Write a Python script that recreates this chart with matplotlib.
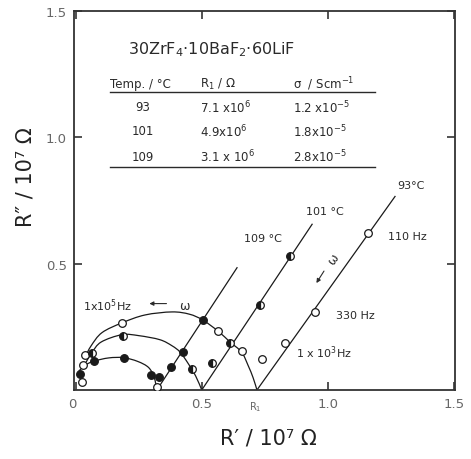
import matplotlib
matplotlib.use("Agg")
import matplotlib.pyplot as plt
from matplotlib.path import Path
from matplotlib.patches import PathPatch
import numpy as np

# ---------------- data (units of 10^7 ohm) ----------------
temps = [93, 101, 109]
R1_ohm = [7.1e6, 4.9e6, 3.1e6]
R1_labels = ["7.1 x10$^{6}$", "4.9x10$^{6}$", "3.1 x 10$^{6}$"]
sigma_labels = ["1.2 x10$^{-5}$", "1.8x10$^{-5}$", "2.8x10$^{-5}$"]

# semicircle traces
arc93_x = [0.036, 0.06, 0.103, 0.183, 0.274, 0.381, 0.45, 0.503, 0.565, 0.611, 0.657, 0.683, 0.703, 0.718]
arc93_y = [0.13, 0.175, 0.227, 0.266, 0.297, 0.309, 0.300, 0.277, 0.232, 0.190, 0.150, 0.097, 0.048, 0.0]
arc101_x = [0.04, 0.063, 0.10, 0.183, 0.25, 0.333, 0.381, 0.413, 0.445, 0.475, 0.499]
arc101_y = [0.11, 0.148, 0.19, 0.219, 0.215, 0.199, 0.175, 0.150, 0.105, 0.055, 0.0]
arc109_x = [0.011, 0.04, 0.07, 0.13, 0.189, 0.245, 0.288, 0.31, 0.321]
arc109_y = [0.075, 0.1, 0.114, 0.127, 0.128, 0.113, 0.089, 0.05, 0.0]

# spike lines (start / end)
line93_x = [0.718, 1.266]
line93_y = [0.0, 0.766]
line101_x = [0.499, 0.937]
line101_y = [0.0, 0.656]
line109_x = [0.326, 0.639]
line109_y = [0.008, 0.484]

# measured points
pts93_x = [0.024, 0.028, 0.036, 0.183, 0.565, 0.657, 0.738, 0.83, 0.948, 1.159, 0.321]
pts93_y = [0.031, 0.10, 0.14, 0.266, 0.232, 0.153, 0.121, 0.186, 0.309, 0.621, 0.012]
pts101_x = [0.063, 0.187, 0.462, 0.538, 0.611, 0.73, 0.849]
pts101_y = [0.148, 0.215, 0.082, 0.106, 0.186, 0.336, 0.531]
pts109_x = [0.016, 0.071, 0.189, 0.296, 0.33, 0.375, 0.425, 0.503]
pts109_y = [0.063, 0.113, 0.128, 0.06, 0.051, 0.09, 0.152, 0.277]

x_ticks = [0, 0.5, 1.0, 1.5]
x_ticklabels = ["0", "0.5", "1.0", "1.5"]
y_ticks = [0.5, 1.0, 1.5]
y_ticklabels = ["0.5", "1.0", "1.5"]


def smooth_path(xs, ys):
    """Cubic Bezier path through the given points (Catmull-Rom tangents)."""
    p = np.column_stack([xs, ys])
    n = len(p)
    verts = [p[0]]
    codes = [Path.MOVETO]
    for i in range(n - 1):
        p0 = p[i - 1] if i > 0 else p[i]
        p3 = p[i + 2] if i + 2 < n else p[i + 1]
        c1 = p[i] + (p[i + 1] - p0) / 6.0
        c2 = p[i + 1] - (p3 - p[i]) / 6.0
        verts += [c1, c2, p[i + 1]]
        codes += [Path.CURVE4] * 3
    return Path(verts, codes)


# ---------------- figure ----------------
W, H = 471, 460
fig = plt.figure(figsize=(W / 100, H / 100), dpi=100)
ax = fig.add_axes([74 / W, (H - 391) / H, (455 - 74) / W, (391 - 12) / H])
ax.set_xlim(-0.008, 1.504)
ax.set_ylim(0.0, 1.48)

ink = "#1a1a1a"
lw = 0.9
for xs, ys in [(arc93_x, arc93_y), (arc101_x, arc101_y), (arc109_x, arc109_y)]:
    ax.add_patch(PathPatch(smooth_path(xs, ys), fill=False, edgecolor=ink, lw=lw, zorder=2))
for xs, ys in [(line93_x, line93_y), (line101_x, line101_y), (line109_x, line109_y)]:
    ax.plot(xs, ys, color=ink, lw=lw, zorder=2)

ms = 5.5
ax.plot(pts93_x, pts93_y, "o", ms=ms, mfc="white", mec=ink, mew=0.9, zorder=3)
ax.plot(pts101_x, pts101_y, "o", ms=ms, fillstyle="left", mfc=ink, mfcalt="white",
        mec=ink, mew=0.9, zorder=3)
ax.plot(pts109_x, pts109_y, "o", ms=ms, mfc=ink, mec=ink, mew=0.9, zorder=3)

# spines & ticks
for s in ax.spines.values():
    s.set_linewidth(1.3)
    s.set_color("#333333")
ax.set_xticks(x_ticks)
ax.set_xticklabels(x_ticklabels)
ax.set_yticks(y_ticks)
ax.set_yticklabels(y_ticklabels)
ax.tick_params(direction="in", length=6, width=1.2, color="#333333",
               top=True, right=True, labelsize=9.5, labelcolor="#666666", pad=5)
ax.get_xticklabels()[0].set_ha("right")
ax.text(R1_ohm[0] / 1e7, -0.035, "R$_1$", ha="center", va="top", fontsize=7,
        color="#666666")

ax.set_xlabel("R′ / 10⁷ Ω", fontsize=15, color="#222222")
ax.set_ylabel("R″ / 10⁷ Ω", fontsize=15, color="#222222")
ax.xaxis.set_label_coords(0.509, -0.1)
ax.yaxis.set_label_coords(-0.1, 0.565)

# annotations
tc = "#2a2a2a"
fs = 8
ax.text(1.33, 0.812, "93°C", ha="center", va="center", fontsize=fs, color=tc)
ax.text(0.988, 0.707, "101 °C", ha="center", va="center", fontsize=fs, color=tc)
ax.text(0.742, 0.60, "109 °C", ha="center", va="center", fontsize=fs, color=tc)
ax.text(1.315, 0.609, "110 Hz", ha="center", va="center", fontsize=fs, color=tc)
ax.text(1.11, 0.297, "330 Hz", ha="center", va="center", fontsize=fs, color=tc)
ax.text(0.985, 0.152, "1 x 10$^{3}$Hz", ha="center", va="center", fontsize=fs, color=tc)
ax.text(0.125, 0.336, "1x10$^{5}$Hz", ha="center", va="center", fontsize=fs, color=tc)
ax.annotate("", xy=(0.28, 0.342), xytext=(0.37, 0.342),
            arrowprops=dict(arrowstyle="-|>", color=tc, lw=0.8, mutation_scale=6))
ax.text(0.43, 0.336, "ω", ha="center", va="center", fontsize=fs + 1, color=tc)
ax.annotate("", xy=(0.948, 0.414), xytext=(0.99, 0.48),
            arrowprops=dict(arrowstyle="-|>", color=tc, lw=0.8, mutation_scale=6))
ax.text(1.02, 0.52, "ω", ha="center", va="center", fontsize=fs + 1, color=tc, rotation=55)

# inset table
ax.text(0.206, 1.352, "30ZrF$_4$·10BaF$_2$·60LiF", ha="left", va="center",
        fontsize=11.5, color=tc)
tfs = 8.5
hy = 1.215
ax.text(0.135, hy, "Temp. / °C", ha="left", va="center", fontsize=tfs, color=tc)
ax.text(0.492, hy, "R$_1$ / Ω", ha="left", va="center", fontsize=tfs, color=tc)
ax.text(0.861, hy, "σ  / Scm$^{-1}$", ha="left", va="center", fontsize=tfs, color=tc)
ax.plot([0.135, 1.187], [1.18, 1.18], color=tc, lw=1.0)
row_y = [1.121, 1.027, 0.926]
for t, r, s, yy in zip(temps, R1_labels, sigma_labels, row_y):
    ax.text(0.266, yy, str(t), ha="center", va="center", fontsize=tfs, color=tc)
    ax.text(0.492, yy, r, ha="left", va="center", fontsize=tfs, color=tc)
    ax.text(0.861, yy, s, ha="left", va="center", fontsize=tfs, color=tc)
ax.plot([0.135, 1.187], [0.883, 0.883], color=tc, lw=1.0)

fig.savefig("out.png", dpi=100)
